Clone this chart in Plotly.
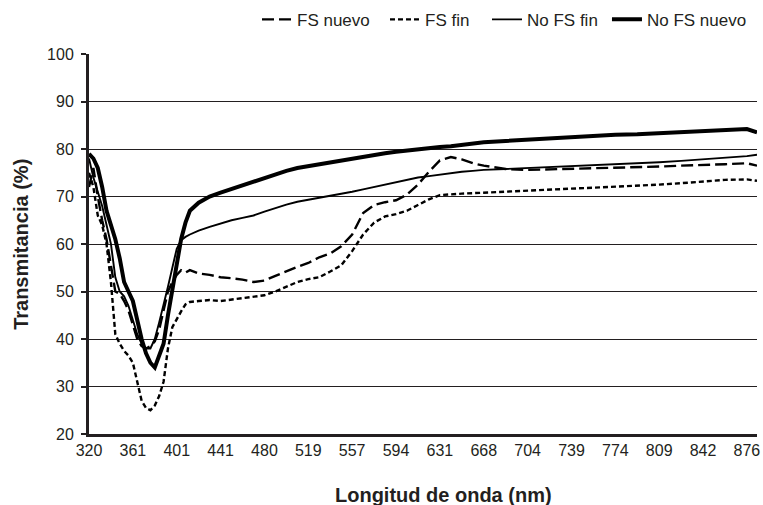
import plotly.graph_objects as go

# position along the category axis (one unit = one labelled tick)
pos = [0, 0.1, 0.2, 0.3, 0.4, 0.5, 0.6, 0.7, 0.8, 0.9, 1.0, 1.1, 1.2, 1.3, 1.4, 1.5,
       1.6, 1.7, 1.8, 1.9, 2.0, 2.1, 2.2, 2.3,
       2.5, 2.75, 3.0, 3.25, 3.5, 3.75, 4.0, 4.25, 4.5, 4.75, 5.0, 5.25, 5.5, 5.75,
       6.0, 6.25, 6.5, 6.75, 7.0, 7.25, 7.5, 7.75, 8.0, 8.25, 8.5, 8.75, 9.0,
       9.5, 10, 10.5, 11, 11.5, 12, 12.5, 13, 13.5, 14, 14.5, 15, 15.23]

wavelength_labels = ['320', '361', '401', '441', '480', '519', '557', '594',
                     '631', '668', '704', '739', '774', '809', '842', '876']

fs_nuevo = [72, 76, 70, 65, 61, 55, 50, 49.5, 48, 46, 43, 40, 38.5, 38, 38.5, 39.5,
            42, 46, 50, 52, 53.5, 54.5, 54, 54.5,
            53.8, 53.5, 53, 52.8, 52.5, 52, 52.3, 53.3, 54.3, 55.2, 56, 57.2, 58, 59.5,
            62, 66.5, 68.2, 68.8, 69.2, 70.4, 72.5, 75.2, 77.6, 78.3, 77.8, 77, 76.5,
            75.8, 75.6, 75.7, 75.9, 76, 76.1, 76.2, 76.3, 76.5, 76.6, 76.8, 77, 76.5]

fs_fin = [75, 72, 66, 64, 60, 52, 41, 39, 37.5, 36.5, 35, 31, 27, 25.5, 25, 26,
          28, 31, 38, 42.5, 44.3, 45.8, 47.3, 47.8,
          48, 48.2, 48, 48.3, 48.5, 48.8, 49.2, 50, 51, 52, 52.6, 53, 54.2, 55.5,
          58.5, 62, 64.5, 65.8, 66.3, 67, 68.2, 69.4, 70.3, 70.5, 70.6, 70.7, 70.8,
          71, 71.2, 71.4, 71.7, 71.9, 72.1, 72.3, 72.5, 72.8, 73.1, 73.5, 73.6, 73.3]

no_fs_fin = [78, 74, 71, 68, 64, 60, 53, 50, 49, 47, 44, 41, 39, 38, 38, 40,
             43.5, 47, 51, 55, 59, 60.8, 61.5, 62,
             62.8, 63.6, 64.3, 65, 65.5, 66, 66.8, 67.6, 68.3, 68.9, 69.3, 69.7, 70.1, 70.5,
             71, 71.5, 72, 72.5, 73, 73.5, 74, 74.3, 74.6, 75, 75.2, 75.4, 75.6,
             75.8, 76, 76.2, 76.4, 76.5, 76.8, 77, 77.2, 77.5, 77.8, 78.2, 78.5, 78.8]

no_fs_nuevo = [79, 78, 76, 72, 67, 64, 61, 57, 52, 50, 48, 44, 40, 37, 35, 34,
               36.5, 39, 45, 50, 56, 61, 64.5, 67,
               68.7, 70, 70.8, 71.6, 72.3, 73, 73.8, 74.7, 75.4, 76, 76.4, 76.8, 77.3, 77.7,
               78.1, 78.5, 78.8, 79.1, 79.4, 79.7, 80, 80.2, 80.4, 80.6, 80.9, 81.1, 81.4,
               81.7, 82, 82.3, 82.6, 82.8, 83, 83.1, 83.3, 83.5, 83.7, 84, 84.2, 83.5]

font_family = "Liberation Sans, Arial, sans-serif"
text_color = '#231f20'

fig = go.Figure()

# each series gets its own legend box so the entries can be spaced like the original
fig.add_trace(go.Scatter(x=pos, y=fs_nuevo, name='FS nuevo', mode='lines', legend='legend',
                         line=dict(color='#000000', width=2.4, dash='12px,5px')))
fig.add_trace(go.Scatter(x=pos, y=fs_fin, name='FS fin', mode='lines', legend='legend2',
                         line=dict(color='#000000', width=2.4, dash='5px,3px')))
fig.add_trace(go.Scatter(x=pos, y=no_fs_fin, name='No FS fin', mode='lines', legend='legend3',
                         line=dict(color='#000000', width=1.9)))
fig.add_trace(go.Scatter(x=pos, y=no_fs_nuevo, name='No FS nuevo', mode='lines', legend='legend4',
                         line=dict(color='#000000', width=4)))


def legend_box(x):
    return dict(orientation='h', x=x, xanchor='left', y=1.09, yanchor='middle',
                font=dict(size=17, color=text_color), bgcolor='rgba(0,0,0,0)',
                itemwidth=30, borderwidth=0)


fig.update_layout(
    width=763,
    height=505,
    margin=dict(l=89, r=6, t=54, b=71, autoexpand=False),
    paper_bgcolor='white',
    plot_bgcolor='white',
    font=dict(family=font_family, size=16, color=text_color),
    showlegend=True,
    legend=legend_box(0.2515),
    legend2=legend_box(0.4431),
    legend3=legend_box(0.5958),
    legend4=legend_box(0.7754),
    annotations=[
        dict(text='<b>Transmitancia (%)</b>', textangle=-90, xref='paper', yref='paper',
             x=-0.102, y=0.5, xanchor='center', yanchor='middle', showarrow=False,
             font=dict(size=20, color=text_color)),
        dict(text='<b>Longitud de onda (nm)</b>', xref='paper', yref='paper',
             x=0.531, y=-0.16, xanchor='center', yanchor='middle', showarrow=False,
             font=dict(size=20, color=text_color)),
    ],
)

fig.update_xaxes(
    range=[0, 15.23],
    tickmode='array',
    tickvals=list(range(len(wavelength_labels))),
    ticktext=wavelength_labels,
    showgrid=False,
    zeroline=False,
    showline=True,
    linecolor='#231f20',
    linewidth=3,
    ticks='',
    tickfont=dict(size=16, color=text_color),
)

fig.update_yaxes(
    range=[20, 100],
    dtick=10,
    showgrid=True,
    gridcolor='#231f20',
    gridwidth=1.2,
    zeroline=False,
    showline=True,
    linecolor='#231f20',
    linewidth=3,
    ticks='outside',
    ticklen=5,
    tickwidth=2,
    tickcolor='#231f20',
    ticklabelstandoff=4,
    tickfont=dict(size=16, color=text_color),
)

# page body has a default margin; drop it so the figure fills the window exactly
fig.write_html("out.html", config={'displayModeBar': False},
               post_script="document.body.style.margin='0';")
